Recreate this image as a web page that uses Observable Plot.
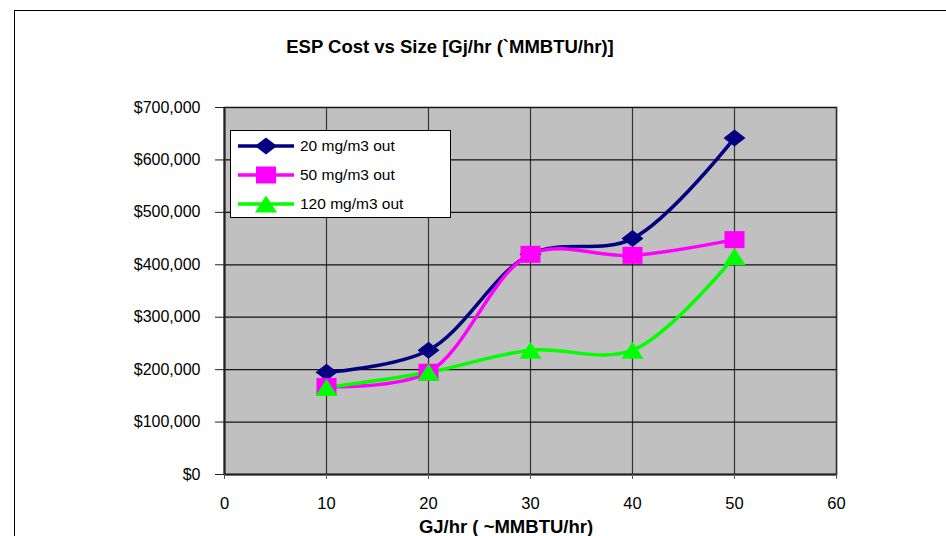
<!DOCTYPE html>
<html>
<head>
<meta charset="utf-8">
<script src="https://cdn.jsdelivr.net/npm/d3@7"></script>
<script src="https://cdn.jsdelivr.net/npm/@observablehq/plot@0.6"></script>
<style>
  html, body { margin: 0; padding: 0; background: #fff; }
  #chart { position: relative; width: 946px; height: 536px; overflow: hidden; font-family: "Liberation Sans", Arial, sans-serif; }
  #border { position: absolute; left: 14px; top: 10px; width: 1000px; height: 600px; border: 1px solid #000; box-sizing: border-box; }
  #chart svg.plot { position: absolute; left: 0; top: 0; }
  .title { position: absolute; font-weight: bold; font-size: 18.5px; white-space: nowrap; transform: translate(-50%, -50%); color: #000; }
  #legend { position: absolute; left: 230px; top: 130px; width: 221px; height: 88px; border: 1px solid #000; background: #fff; box-sizing: border-box; }
  .row { position: absolute; left: 0; height: 20px; display: flex; align-items: center; font-size: 15.5px; }
  .row svg { display: block; margin-left: 7px; }
  .row span { margin-left: 6px; }
</style>
</head>
<body>
<div id="chart">
  <div id="border"></div>
</div>
<script>
// ESP cost by unit size, one series per outlet dust concentration
const sizes = [10, 20, 30, 40, 50];
const cost20 = [195000, 237000, 420000, 450000, 642000];
const cost50 = [168000, 195000, 420000, 418000, 448000];
const cost120 = [166000, 195000, 237000, 237000, 416000];
const seriesNames = ["20 mg/m3 out", "50 mg/m3 out", "120 mg/m3 out"];
const seriesColors = ["#000080", "#ff00ff", "#00ff00"];
const xTicks = [0, 10, 20, 30, 40, 50, 60];
const yTicks = [0, 100000, 200000, 300000, 400000, 500000, 600000, 700000];
const chartTitle = "ESP Cost vs Size [Gj/hr (`MMBTU/hr)]";
const xTitle = "GJ/hr ( ~MMBTU/hr)";

const rows = [cost20, cost50, cost120].flatMap((vals, s) =>
  vals.map((v, i) => ({series: seriesNames[s], size: sizes[i], cost: v}))
);

// marker shapes: slightly wider than tall
const wideDiamond = {draw(ctx) { ctx.moveTo(0, -8.5); ctx.lineTo(11, 0); ctx.lineTo(0, 8.5); ctx.lineTo(-11, 0); ctx.closePath(); }};
const wideSquare = {draw(ctx) { ctx.moveTo(-10, -8.5); ctx.lineTo(10, -8.5); ctx.lineTo(10, 8.5); ctx.lineTo(-10, 8.5); ctx.closePath(); }};
const wideTriangle = {draw(ctx) { ctx.moveTo(0, -8.5); ctx.lineTo(11, 8.5); ctx.lineTo(-11, 8.5); ctx.closePath(); }};
const seriesSymbols = [wideDiamond, wideSquare, wideTriangle];

const fmt = d3.format(",");

const plot = Plot.plot({
  width: 946,
  height: 536,
  marginTop: 107,
  marginRight: 110,
  marginBottom: 62,
  marginLeft: 224,
  style: {background: "transparent", fontFamily: "'Liberation Sans', Arial, sans-serif", fontSize: "16px", color: "#000"},
  x: {domain: [0, 60]},
  y: {domain: [0, 700000]},
  marks: [
    Plot.frame({fill: "#c0c0c0", stroke: "#808080", strokeWidth: 2}),
    Plot.gridX(xTicks, {stroke: "#333", strokeOpacity: 1, strokeWidth: 1.2}),
    Plot.gridY(yTicks, {stroke: "#111", strokeOpacity: 1, strokeWidth: 1.2}),
    Plot.ruleX([0], {stroke: "#222", strokeWidth: 2}),
    Plot.ruleY([0], {stroke: "#222", strokeWidth: 2}),
    Plot.axisY(yTicks, {tickSize: 9, tickPadding: 15, tickFormat: d => "$" + fmt(d), fontSize: 16, label: null, stroke: "#222"}),
    Plot.axisX(xTicks, {tickSize: 5, tickPadding: 18, fontSize: 16.5, label: null, stroke: "#555"}),
    ...seriesNames.map((name, s) =>
      Plot.line(rows.filter(d => d.series === name), {
        x: "size", y: "cost", stroke: seriesColors[s], strokeWidth: 3.5, curve: "catmull-rom"
      })
    ),
    ...seriesNames.map((name, s) =>
      Plot.dot(rows.filter(d => d.series === name), {
        x: "size", y: "cost", fill: seriesColors[s], symbol: seriesSymbols[s], r: 9, stroke: "none"
      })
    )
  ]
});
plot.classList.add("plot");
const chart = document.getElementById("chart");
chart.appendChild(plot);

function addText(text, x, y) {
  const el = document.createElement("div");
  el.className = "title";
  el.style.left = x + "px";
  el.style.top = y + "px";
  el.textContent = text;
  chart.appendChild(el);
}
addText(chartTitle, 450, 47);
addText(xTitle, 506, 527);

// legend box
const legend = document.createElement("div");
legend.id = "legend";
const markerPaths = [
  "M28,1.5 L39,10 L28,18.5 L17,10 Z",
  "M18,1.5 L38,1.5 L38,18.5 L18,18.5 Z",
  "M28,1.5 L39,18.5 L17,18.5 Z"
];
seriesNames.forEach((name, s) => {
  const row = document.createElement("div");
  row.className = "row";
  row.style.top = (5 + s * 29) + "px";
  row.innerHTML =
    `<svg width="56" height="20" viewBox="0 0 56 20">` +
    `<line x1="0" y1="10" x2="56" y2="10" stroke="${seriesColors[s]}" stroke-width="3.5"/>` +
    `<path d="${markerPaths[s]}" fill="${seriesColors[s]}"/></svg>` +
    `<span>${name}</span>`;
  legend.appendChild(row);
});
chart.appendChild(legend);
</script>
</body>
</html>
